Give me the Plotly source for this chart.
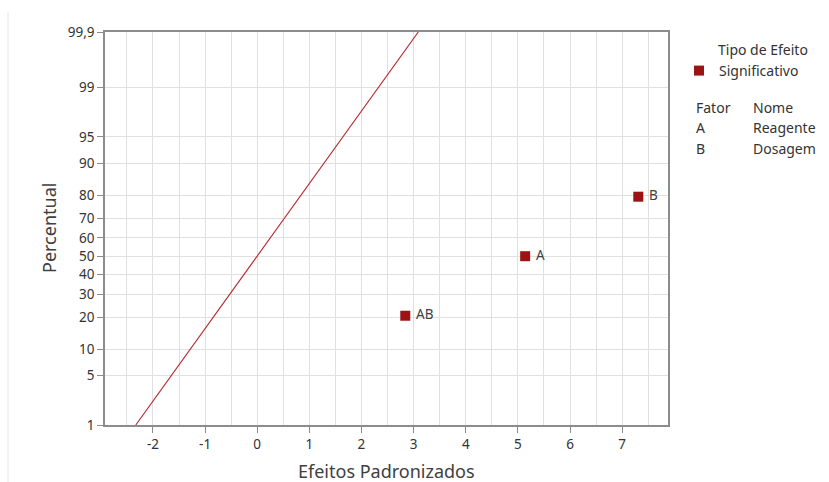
import plotly.graph_objects as go
from statistics import NormalDist

# ---- data ----
effect_labels = ["AB", "A", "B"]
effect_values = [2.84, 5.14, 7.31]
effect_percent = [20.6, 50.0, 79.4]

line_effect = [-2.33, 3.09]
line_percent = [1.0, 99.9]

y_tick_percent = [1, 5, 10, 20, 30, 40, 50, 60, 70, 80, 90, 95, 99, 99.9]
y_tick_text = ["1", "5", "10", "20", "30", "40", "50", "60", "70", "80", "90", "95", "99", "99,9"]
x_tick_vals = [-2, -1, 0, 1, 2, 3, 4, 5, 6, 7]
x_tick_text = ["-2", "-1", "0", "1", "2", "3", "4", "5", "6", "7"]

factor_codes = ["A", "B"]
factor_names = ["Reagente", "Dosagem"]

nd = NormalDist()
def z(p):
    return nd.inv_cdf(p / 100.0)

FONT = "Noto Sans"
RED = "#9c1313"
TXT = "#333333"

L, R, T, B = 105, 161, 32, 57
W, H = 829, 482
PW, PH = W - L - R, H - T - B
def px(xp):
    return (xp - L) / PW
def py(yp):
    return (H - B - yp) / PH

fig = go.Figure()
fig.add_trace(go.Scatter(
    x=line_effect, y=[z(p) for p in line_percent], mode="lines",
    line=dict(color="#b5262b", width=1.1), showlegend=False, hoverinfo="skip"))
fig.add_trace(go.Scatter(
    x=effect_values, y=[z(p) for p in effect_percent], mode="markers+text",
    marker=dict(symbol="square", size=10, color=RED),
    text=[" " + s for s in effect_labels], textposition="middle right",
    textfont=dict(family=FONT, size=13.5, color="#404040"),
    name="Significativo", showlegend=True))

fig.update_layout(
    width=W, height=H,
    margin=dict(l=L, r=R, t=T, b=B),
    paper_bgcolor="white", plot_bgcolor="white",
    font=dict(family=FONT, size=13.5, color=TXT),
    legend=dict(
        x=px(679), y=py(55), xanchor="left", yanchor="top",
        font=dict(family=FONT, size=14, color=TXT),
        itemwidth=30, tracegroupgap=0, bgcolor="rgba(0,0,0,0)",
    ),
    xaxis=dict(
        range=[-2.92, 7.88], tickvals=x_tick_vals, ticktext=x_tick_text, ticks="outside", ticklen=6,
        tickcolor="#8c8c8c", showline=True, linecolor="#8c8c8c", linewidth=1.5, mirror=True,
        showgrid=True, gridcolor="#e0e0e0", gridwidth=1, zeroline=False, automargin=False,
        minor=dict(dtick=0.5, tick0=0, showgrid=True, gridcolor="#e0e0e0", ticks=""),
        tickfont=dict(family=FONT, size=13.5, color=TXT),
    ),
    yaxis=dict(
        range=[z(1), z(99.9)], tickvals=[z(p) for p in y_tick_percent], ticktext=y_tick_text,
        ticks="outside", ticklen=6, tickcolor="#8c8c8c", automargin=False,
        showline=True, linecolor="#8c8c8c", linewidth=1.5, mirror=True,
        showgrid=True, gridcolor="#e0e0e0", gridwidth=1, zeroline=False,
        tickfont=dict(family=FONT, size=13.5, color=TXT),
    ),
)

# axis titles
fig.add_annotation(xref="paper", yref="paper", x=px(386), y=py(471), text="Efeitos Padronizados",
                   showarrow=False, xanchor="center", yanchor="middle",
                   font=dict(family=FONT, size=18, color="#404040"))
fig.add_annotation(xref="paper", yref="paper", x=px(49), y=py(228), text="Percentual", textangle=-90,
                   showarrow=False, xanchor="center", yanchor="middle",
                   font=dict(family=FONT, size=18, color="#404040"))

# legend title and factor table
fig.add_annotation(xref="paper", yref="paper", x=px(716), y=py(50), text="Tipo de Efeito",
                   showarrow=False, xanchor="left", yanchor="middle",
                   font=dict(family=FONT, size=14, color=TXT))
fig.add_annotation(xref="paper", yref="paper", x=px(694), y=py(108), text="Fator",
                   showarrow=False, xanchor="left", yanchor="middle",
                   font=dict(family=FONT, size=14, color=TXT))
fig.add_annotation(xref="paper", yref="paper", x=px(751), y=py(108), text="Nome",
                   showarrow=False, xanchor="left", yanchor="middle",
                   font=dict(family=FONT, size=14, color=TXT))
for i, (c, n) in enumerate(zip(factor_codes, factor_names)):
    yy = py(128 + 20 * i)
    fig.add_annotation(xref="paper", yref="paper", x=px(694), y=yy, text=c,
                       showarrow=False, xanchor="left", yanchor="middle",
                       font=dict(family=FONT, size=14, color=TXT))
    fig.add_annotation(xref="paper", yref="paper", x=px(751), y=yy, text=n,
                       showarrow=False, xanchor="left", yanchor="middle",
                       font=dict(family=FONT, size=14, color=TXT))

# faint left border of the original image
fig.add_shape(type="line", xref="paper", yref="paper",
              x0=px(8), x1=px(8), y0=py(482), y1=py(12),
              line=dict(color="#e6e6e6", width=1))

fig.write_html("out.html")
